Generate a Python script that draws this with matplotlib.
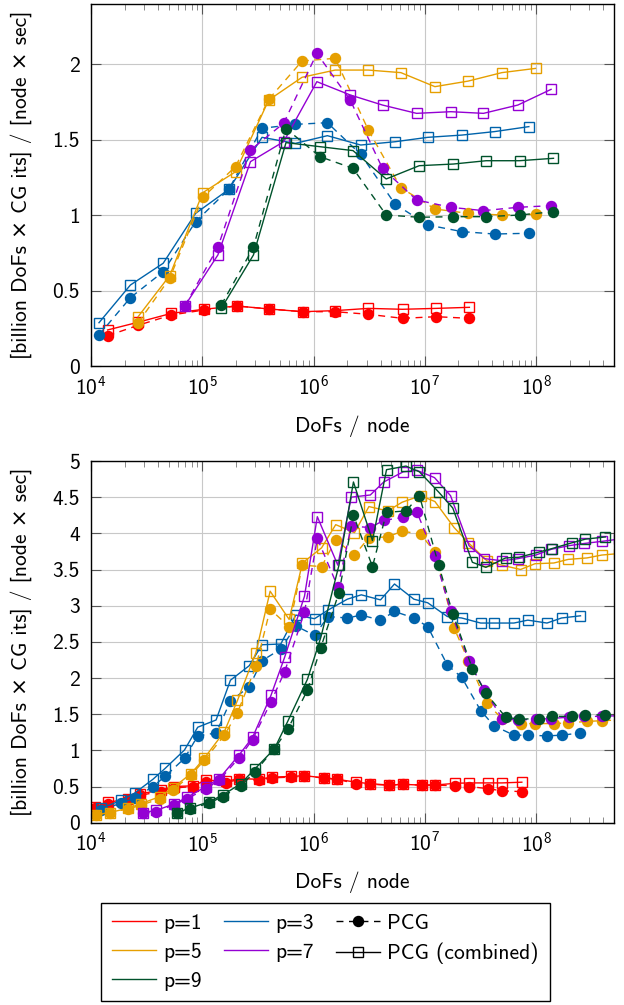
import matplotlib
matplotlib.use("Agg")
import matplotlib.pyplot as plt
from matplotlib.lines import Line2D
from matplotlib.ticker import LogLocator, FuncFormatter, MultipleLocator, NullFormatter

plt.rcParams['font.family'] = ['cmss10', 'DejaVu Sans']
plt.rcParams['axes.unicode_minus'] = False
plt.rcParams['axes.formatter.use_mathtext'] = True

COLORS = {1: '#ff0000', 3: '#0063ab', 5: '#e69f00', 7: '#9400d3', 9: '#00522b'}

# ---------------- upper panel ----------------
top_dofs = {
    1: [1.41e4, 2.65e4, 5.27e4, 1.03e5, 2.04e5, 4.01e5, 7.96e5, 1.56e6, 3.10e6, 6.30e6, 1.26e7, 2.51e7],
    3: [1.18e4, 2.26e4, 4.45e4, 8.71e4, 1.73e5, 3.44e5, 6.85e5, 1.33e6, 2.65e6, 5.41e6, 1.06e7, 2.15e7, 4.22e7, 8.59e7],
    5: [2.65e4, 5.09e4, 1.01e5, 1.99e5, 3.95e5, 7.87e5, 1.56e6, 3.10e6, 6.08e6, 1.23e7, 2.45e7, 4.91e7, 9.86e7],
    7: [6.95e4, 1.38e5, 2.71e5, 5.38e5, 1.07e6, 2.13e6, 4.16e6, 8.41e6, 1.71e7, 3.36e7, 6.84e7, 1.36e8],
    9: [1.48e5, 2.88e5, 5.65e5, 1.14e6, 2.26e6, 4.49e6, 8.89e6, 1.80e7, 3.55e7, 7.08e7, 1.43e8],
}
top_pcg = {
    1: [0.20, 0.27, 0.338, 0.371, 0.398, 0.378, 0.360, 0.360, 0.343, 0.316, 0.327, 0.316],
    3: [0.206, 0.453, 0.625, 0.957, 1.171, 1.576, 1.602, 1.613, 1.403, 1.072, 0.935, 0.891, 0.875, 0.880],
    5: [0.287, 0.581, 1.118, 1.322, 1.768, 2.022, 2.040, 1.565, 1.182, 1.041, 1.012, 1.001, 1.006],
    7: [0.398, 0.787, 1.432, 1.609, 2.073, 1.764, 1.310, 1.101, 1.052, 1.030, 1.052, 1.063],
    9: [0.404, 0.787, 1.574, 1.388, 1.310, 1.001, 0.986, 0.990, 0.990, 1.001, 1.023],
}
top_comb = {
    1: [0.239, 0.29, 0.349, 0.376, 0.398, 0.378, 0.360, 0.367, 0.382, 0.376, 0.382, 0.389],
    3: [0.287, 0.537, 0.681, 1.012, 1.171, 1.516, 1.476, 1.527, 1.465, 1.487, 1.516, 1.531, 1.554, 1.587],
    5: [0.327, 0.599, 1.149, 1.288, 1.763, 1.914, 1.962, 1.962, 1.945, 1.852, 1.889, 1.945, 1.973],
    7: [0.398, 0.736, 1.355, 1.487, 1.885, 1.797, 1.730, 1.675, 1.686, 1.675, 1.730, 1.834],
    9: [0.382, 0.736, 1.481, 1.454, 1.428, 1.240, 1.328, 1.339, 1.361, 1.361, 1.377],
}

# ---------------- lower panel ----------------
bot_dofs = {
    1: [1.08e4, 1.42e4, 2.13e4, 2.78e4, 4.22e4, 5.55e4, 8.28e4, 1.08e5, 1.62e5, 2.14e5, 3.24e5, 4.19e5,
        6.32e5, 8.28e5, 1.24e6, 1.62e6, 2.42e6, 3.19e6, 4.78e6, 6.31e6, 9.33e6, 1.23e7, 1.88e7, 2.49e7,
        3.72e7, 4.92e7, 7.43e7],
    3: [1.24e4, 1.87e4, 2.47e4, 3.60e4, 4.63e4, 6.92e4, 9.10e4, 1.33e5, 1.79e5, 2.64e5, 3.44e5, 5.07e5,
        6.92e5, 1.02e6, 1.35e6, 2.01e6, 2.68e6, 3.99e6, 5.33e6, 7.96e6, 1.06e7, 1.59e7, 2.14e7, 3.17e7,
        4.17e7, 6.30e7, 8.41e7, 1.25e8, 1.69e8, 2.50e8],
    5: [1.11e4, 1.47e4, 2.15e4, 2.79e4, 4.13e4, 5.43e4, 7.93e4, 1.04e5, 1.58e5, 2.07e5, 3.03e5, 4.07e5,
        6.03e5, 7.94e5, 1.18e6, 1.58e6, 2.33e6, 3.14e6, 4.63e6, 6.24e6, 9.14e6, 1.23e7, 1.83e7, 2.46e7,
        3.61e7, 4.91e7, 7.23e7, 9.75e7, 1.44e8, 1.94e8, 2.86e8, 3.88e8, 5.50e8],
    7: [2.92e4, 3.85e4, 5.60e4, 7.29e4, 1.08e5, 1.42e5, 2.15e5, 2.83e5, 4.14e5, 5.50e5, 8.28e5, 1.08e6,
        1.65e6, 2.18e6, 3.23e6, 4.27e6, 6.38e6, 8.51e6, 1.22e7, 1.70e7, 2.49e7, 3.43e7, 4.97e7, 6.84e7,
        9.91e7, 1.37e8, 1.98e8, 2.70e8, 3.93e8, 5.50e8],
    9: [5.93e4, 7.71e4, 1.15e5, 1.52e5, 2.22e5, 2.95e5, 4.44e5, 5.85e5, 8.79e5, 1.16e6, 1.69e6, 2.28e6,
        3.38e6, 4.52e6, 6.76e6, 8.93e6, 1.33e7, 1.78e7, 2.67e7, 3.53e7, 5.31e7, 7.03e7, 1.05e8, 1.39e8,
        2.10e8, 2.77e8, 4.18e8],
}
bot_pcg = {
    1: [0.20, 0.26, 0.31, 0.38, 0.43, 0.48, 0.50, 0.56, 0.55, 0.60, 0.59, 0.62, 0.63, 0.64, 0.62, 0.60,
        0.54, 0.53, 0.52, 0.53, 0.52, 0.52, 0.51, 0.50, 0.47, 0.44, 0.43],
    3: [0.18, 0.27, 0.34, 0.50, 0.64, 0.89, 1.20, 1.24, 1.68, 1.88, 2.24, 2.40, 2.72, 2.59, 2.85, 2.83,
        2.87, 2.80, 2.92, 2.83, 2.71, 2.18, 2.01, 1.55, 1.34, 1.21, 1.21, 1.20, 1.21, 1.24],
    5: [0.11, 0.14, 0.19, 0.24, 0.33, 0.45, 0.66, 0.86, 1.21, 1.52, 2.16, 2.95, 2.71, 3.56, 3.54, 3.91,
        3.70, 3.94, 3.95, 4.03, 3.99, 3.74, 2.69, 2.24, 1.65, 1.44, 1.37, 1.37, 1.37, 1.38, 1.40, 1.41, 1.42],
    7: [0.13, 0.15, 0.25, 0.33, 0.47, 0.59, 0.90, 1.15, 1.67, 2.09, 2.91, 3.93, 3.26, 4.10, 4.08, 4.18,
        4.22, 4.29, 3.69, 2.93, 2.23, 1.83, 1.44, 1.42, 1.43, 1.44, 1.46, 1.47, 1.47, 1.48],
    9: [0.14, 0.19, 0.27, 0.36, 0.51, 0.70, 1.02, 1.29, 1.83, 2.42, 3.18, 4.25, 3.54, 4.29, 4.31, 4.52,
        3.56, 2.89, 2.13, 1.79, 1.46, 1.43, 1.44, 1.47, 1.47, 1.49, 1.49],
}
bot_comb = {
    1: [0.22, 0.28, 0.33, 0.40, 0.45, 0.50, 0.51, 0.59, 0.57, 0.61, 0.60, 0.63, 0.64, 0.65, 0.62, 0.60,
        0.56, 0.54, 0.52, 0.53, 0.52, 0.52, 0.545, 0.55, 0.55, 0.55, 0.56],
    3: [0.20, 0.31, 0.41, 0.60, 0.75, 1.005, 1.32, 1.42, 1.97, 2.17, 2.46, 2.47, 2.87, 2.82, 2.94, 3.09,
        3.15, 3.08, 3.30, 3.09, 3.04, 2.85, 2.83, 2.76, 2.76, 2.76, 2.80, 2.76, 2.83, 2.86],
    5: [0.11, 0.14, 0.20, 0.26, 0.36, 0.48, 0.68, 0.89, 1.26, 1.69, 2.35, 3.20, 2.81, 3.59, 3.80, 4.12,
        4.01, 4.37, 4.31, 4.43, 4.52, 4.44, 4.08, 3.87, 3.62, 3.56, 3.50, 3.58, 3.59, 3.64, 3.66, 3.70, 3.72],
    7: [0.14, 0.17, 0.26, 0.35, 0.50, 0.61, 0.94, 1.18, 1.76, 2.29, 3.13, 4.23, 3.56, 4.50, 4.53, 4.71,
        4.85, 4.87, 4.77, 4.52, 3.83, 3.65, 3.62, 3.65, 3.70, 3.78, 3.83, 3.86, 3.89, 3.92],
    9: [0.14, 0.20, 0.29, 0.38, 0.54, 0.74, 1.02, 1.40, 1.98, 2.56, 3.56, 4.71, 3.90, 4.88, 4.93, 4.85,
        4.57, 4.35, 3.60, 3.53, 3.66, 3.67, 3.74, 3.79, 3.87, 3.92, 3.95],
}

degrees = [1, 3, 5, 7, 9]
FS = 15.5
MS = 7.2
LW = 1.0
DASH = (0, (5, 4))

fig = plt.figure(figsize=(6.24, 10.05), dpi=100)
W, H = 624.0, 1005.0
ax_top = fig.add_axes([91 / W, 1 - 366 / H, 523 / W, 362 / H])
ax_bot = fig.add_axes([91 / W, 1 - 822.7 / H, 523 / W, 361.7 / H])


def style_axes(ax, ymax, ystep):
    ax.set_xscale('log')
    ax.set_xlim(1e4, 5e8)
    ax.set_ylim(0, ymax)
    ax.xaxis.set_major_locator(LogLocator(base=10, numticks=20))
    ax.xaxis.set_minor_locator(LogLocator(base=10, subs=range(2, 10), numticks=100))
    ax.xaxis.set_minor_formatter(NullFormatter())
    ax.yaxis.set_major_locator(MultipleLocator(ystep))
    ax.yaxis.set_major_formatter(FuncFormatter(lambda v, pos: '%g' % v))
    ax.grid(True, which='major', color='#c8c8c8', lw=0.8)
    ax.set_axisbelow(True)
    ax.tick_params(which='both', direction='in', top=True, right=True, labelsize=FS)
    ax.tick_params(which='major', length=7, width=0.8, color='#555555')
    ax.tick_params(axis='x', which='major', pad=7)
    ax.tick_params(axis='y', which='major', pad=8)
    ax.tick_params(which='minor', length=4, width=0.6, color='#777777')
    for s in ax.spines.values():
        s.set_linewidth(1.0)
        s.set_color('black')
    ax.set_xlabel('DoFs / node', fontsize=FS, labelpad=11)
    ax.set_ylabel('[billion DoFs × CG its] / [node × sec]', fontsize=FS)
    ax.yaxis.set_label_coords(-0.112, 0.5)


def draw(ax, dofs, pcg, comb):
    for p in degrees:
        c = COLORS[p]
        ax.plot(dofs[p], pcg[p], color=c, lw=LW, ls=DASH, marker='o', ms=MS,
                markerfacecolor=c, markeredgecolor=c)
        ax.plot(dofs[p], comb[p], color=c, lw=LW, ls='-', marker='s', ms=MS,
                markerfacecolor='none', markeredgecolor=c, markeredgewidth=1.0)


style_axes(ax_top, 2.4, 0.5)
draw(ax_top, top_dofs, top_pcg, top_comb)
style_axes(ax_bot, 5.0, 0.5)
draw(ax_bot, bot_dofs, bot_pcg, bot_comb)

handles = [
    Line2D([], [], color=COLORS[1], lw=LW),
    Line2D([], [], color=COLORS[5], lw=LW),
    Line2D([], [], color=COLORS[9], lw=LW),
    Line2D([], [], color=COLORS[3], lw=LW),
    Line2D([], [], color=COLORS[7], lw=LW),
    Line2D([], [], color='black', lw=LW, ls=DASH, marker='o', ms=MS),
    Line2D([], [], color='black', lw=LW, ls='-', marker='s', ms=MS, markerfacecolor='none'),
]
labels = ['p=1', 'p=5', 'p=9', 'p=3', 'p=7', 'PCG', 'PCG (combined)']
leg = fig.legend(handles, labels, ncol=3, loc='center',
                 bbox_to_anchor=(325.4 / W, 1 - 952.2 / H), fontsize=FS,
                 frameon=True, fancybox=False, edgecolor='black', framealpha=1,
                 handlelength=2.05, handletextpad=0.35, columnspacing=1.0,
                 labelspacing=0.45, borderpad=0.5)
leg.get_frame().set_linewidth(1.0)

fig.savefig('out.png', dpi=100)
